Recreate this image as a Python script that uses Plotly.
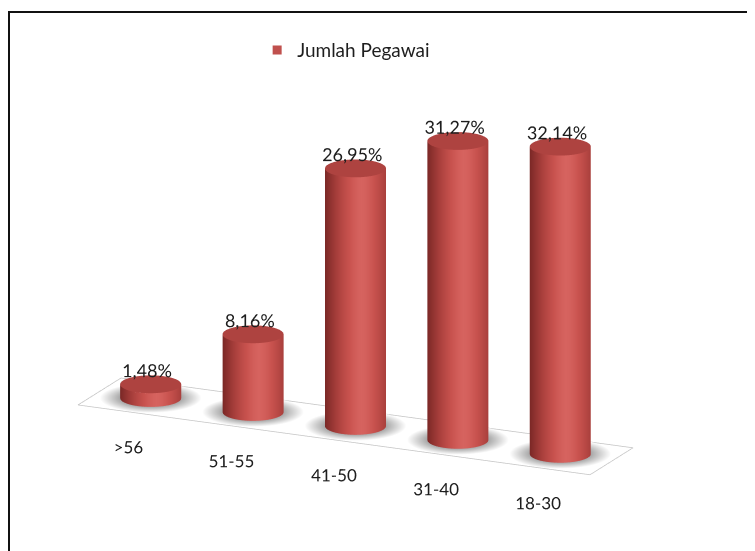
import numpy as np
import plotly.graph_objects as go

# ---------------- data ----------------
categories = [">56", "51-55", "41-50", "31-40", "18-30"]
values = [1.48, 8.16, 26.95, 31.27, 32.14]
series_name = "Jumlah Pegawai"

# ---------------- style / geometry ----------------
FONT = "Lato"
TXT = "#1e1e1e"
RADIUS = 0.27
THETA = np.radians(25.0)   # horizontal view rotation
PHI = np.radians(17.0)     # elevation
RED_SCALE = [[0, "#7a2826"], [0.45, "#a83f3c"], [0.8, "#c8524e"], [1, "#d6635f"]]
SHADOW_SCALE = [[0, "#a8a8a8"], [1, "#ffffff"]]

x_rng = [-0.6, 4.6]
y_rng = [-0.6, 0.6]
z_rng = [-5, 36]
Z_WORLD = 0.0886  # world units per percent
ZOOM = 2.217
FLOOR_D = 0.45

fig = go.Figure()

t = np.linspace(0, 2 * np.pi, 73)
s = np.cos(t - THETA)
shade = np.clip(1 - np.abs(s - 0.2) ** 1.5 / 1.2 ** 1.5, 0, 1)
flat = dict(ambient=1, diffuse=0, specular=0, fresnel=0, roughness=1)

for i, v in enumerate(values):
    # shadow ring on floor
    rho = np.linspace(RADIUS, RADIUS + 0.18, 8)
    TT, RR = np.meshgrid(t, rho)
    fig.add_trace(go.Surface(
        x=i + RR * np.cos(TT), y=RR * np.sin(TT), z=np.full_like(TT, 0.05),
        surfacecolor=(RR - RADIUS) / 0.18, colorscale=SHADOW_SCALE, cmin=0, cmax=1,
        showscale=False, hoverinfo="skip", lighting=flat))
    # side
    zz = np.array([0, v])
    TT, ZZ = np.meshgrid(t, zz)
    fig.add_trace(go.Surface(
        x=i + RADIUS * np.cos(TT), y=RADIUS * np.sin(TT), z=ZZ,
        surfacecolor=np.vstack([shade, shade]), colorscale=RED_SCALE, cmin=0, cmax=1,
        showscale=False, hoverinfo="skip", lighting=flat))
    # top cap
    rho = np.linspace(0, RADIUS, 6)
    TT, RR = np.meshgrid(t, rho)
    fig.add_trace(go.Surface(
        x=i + RR * np.cos(TT), y=RR * np.sin(TT), z=np.full_like(TT, v),
        surfacecolor=np.full_like(TT, 0.52), colorscale=RED_SCALE, cmin=0, cmax=1,
        showscale=False, hoverinfo="skip", lighting=flat))

# floor outline
fig.add_trace(go.Scatter3d(
    x=[-0.5, 4.5, 4.5, -0.5, -0.5],
    y=[-FLOOR_D, -FLOOR_D, FLOOR_D, FLOOR_D, -FLOOR_D], z=[0, 0, 0, 0, 0],
    mode="lines", line=dict(color="#c4c4c4", width=1.5), hoverinfo="skip", showlegend=False))

# value labels
labels = [f"{v:.2f}".replace(".", ",") + "%" for v in values]
fig.add_trace(go.Scatter3d(
    x=[i - 0.08 for i in range(len(values))], y=[0.1] * len(values),
    z=[v + 0.9 for v in values], mode="text", text=labels,
    textposition="middle center", textfont=dict(family=FONT, size=18, color=TXT),
    hoverinfo="skip", showlegend=False))

# category labels
fig.add_trace(go.Scatter3d(
    x=[i + 0.02 for i in range(len(categories))], y=[-0.5] * len(categories),
    z=[-3.5] * len(categories),
    mode="text", text=categories, textposition="middle center",
    textfont=dict(family=FONT, size=17, color=TXT), hoverinfo="skip", showlegend=False))

# legend entry
fig.add_trace(go.Scatter(x=[None], y=[None], mode="markers", name=series_name,
                         marker=dict(symbol="square", size=9, color="#c0504d"),
                         showlegend=True))

r = 2.0
eye = dict(x=r * np.sin(THETA) * np.cos(PHI), y=-r * np.cos(THETA) * np.cos(PHI), z=r * np.sin(PHI))

xr = x_rng[1] - x_rng[0]
yr = y_rng[1] - y_rng[0]
zr = (z_rng[1] - z_rng[0]) * Z_WORLD

axis_off = dict(visible=False, showgrid=False, zeroline=False, showbackground=False)
fig.update_layout(
    width=755, height=551,
    paper_bgcolor="white", plot_bgcolor="white",
    margin=dict(l=0, r=0, t=0, b=0),
    xaxis=dict(visible=False), yaxis=dict(visible=False),
    scene=dict(
        domain=dict(x=[0, 0.92], y=[0.029, 0.991]),
        xaxis=dict(range=x_rng, **axis_off),
        yaxis=dict(range=y_rng, **axis_off),
        zaxis=dict(range=z_rng, **axis_off),
        aspectmode="manual",
        aspectratio=dict(x=ZOOM, y=ZOOM * yr / xr, z=ZOOM * zr / xr),
        camera=dict(eye=eye, center=dict(x=0, y=0, z=0), up=dict(x=0, y=0, z=1),
                    projection=dict(type="orthographic")),
    ),
    legend=dict(x=0.330, y=0.958, xanchor="left", yanchor="top",
                font=dict(family=FONT, size=19, color=TXT), bgcolor="rgba(0,0,0,0)",
                itemwidth=30),
    shapes=[dict(type="rect", xref="paper", yref="paper", x0=1 / 755, x1=1.05,
                 y0=-0.05, y1=1 - 4 / 551, line=dict(color="#111", width=2),
                 fillcolor="rgba(0,0,0,0)")],
    showlegend=True,
)

fig.write_html("out.html")
